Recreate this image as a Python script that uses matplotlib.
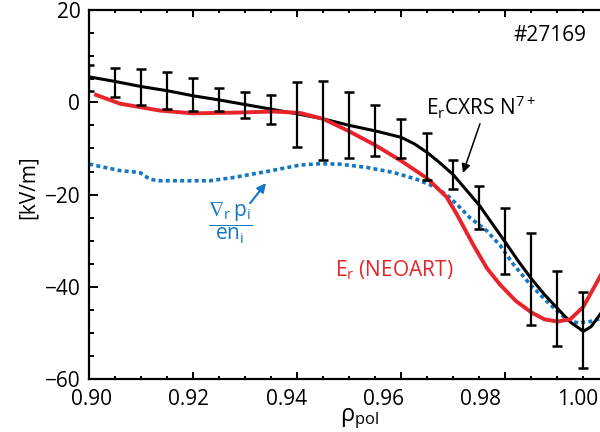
import numpy as np
import matplotlib
matplotlib.use('Agg')
import matplotlib.pyplot as plt
from matplotlib.ticker import MultipleLocator

plt.rcParams['font.family'] = ['Open Sans', 'DejaVu Sans']
plt.rcParams['mathtext.fontset'] = 'custom'
plt.rcParams['mathtext.rm'] = 'Open Sans'
plt.rcParams['mathtext.it'] = 'Open Sans:italic'
plt.rcParams['mathtext.sf'] = 'Open Sans'
plt.rcParams['mathtext.fallback'] = 'stixsans'

RED = '#E8232A'
BLUE = '#1577C2'

# CXRS N7+ Er, error bars at the measurement channels
rho_bar = [0.900, 0.905, 0.910, 0.915, 0.920, 0.925, 0.930, 0.935, 0.940, 0.945,
           0.950, 0.955, 0.960, 0.965, 0.970, 0.975, 0.980, 0.985, 0.990, 0.995]
er_bar = [5.3, 4.3, 3.3, 2.5, 1.7, 0.7, -0.5, -1.6, -2.7, -3.9,
          -4.9, -6.1, -7.8, -11.8, -15.6, -22.8, -30.1, -38.3, -44.6, -49.4]
err_bar = [2.8, 3.2, 3.8, 4.0, 3.5, 2.5, 2.8, 3.1, 7.0, 8.6,
           7.1, 5.6, 4.2, 5.1, 3.2, 4.7, 7.2, 10.0, 8.1, 8.2]

# CXRS profile (solid black)
rho_cx = [0.900, 0.905, 0.910, 0.915, 0.920, 0.925, 0.930, 0.935, 0.940, 0.945,
          0.950, 0.955, 0.960, 0.9625, 0.965, 0.9675, 0.970, 0.9725, 0.975, 0.9775,
          0.980, 0.9825, 0.985, 0.9875, 0.990, 0.9925, 0.995, 0.9965, 0.998, 1.000]
er_cx = [5.5, 4.5, 3.4, 2.5, 1.4, 0.5, -0.5, -1.5, -2.5, -3.6,
         -5.0, -6.2, -7.6, -9.0, -10.9, -13.2, -15.7, -19.0, -22.3, -26.3,
         -30.3, -34.4, -38.2, -41.6, -44.6, -47.6, -49.6, -48.6, -46.3, -43.0]

# NEOART prediction (red)
rho_neo = [0.9013, 0.9059, 0.9136, 0.920, 0.9296, 0.9354, 0.9405, 0.945, 0.950, 0.955,
           0.960, 0.965, 0.9687, 0.9707, 0.9738, 0.9765, 0.979, 0.982, 0.985, 0.9875,
           0.990, 0.9925, 0.995, 0.9979, 1.000]
er_neo = [1.6, -0.3, -1.8, -2.4, -2.2, -2.0, -2.3, -3.6, -6.3, -9.3,
          -12.7, -16.5, -20.5, -24.3, -30.8, -36.0, -39.5, -43.0, -45.5, -47.0,
          -47.5, -47.0, -44.3, -38.4, -34.0]

# diamagnetic term grad(p_i)/(e n_i) (blue dotted)
rho_dp = [0.900, 0.9059, 0.9097, 0.9117, 0.9136, 0.9232, 0.9277, 0.9341, 0.9405, 0.9444,
          0.9482, 0.9533, 0.9585, 0.963, 0.9668, 0.9694, 0.9713, 0.9732, 0.9764, 0.979,
          0.9815, 0.9848, 0.9886, 0.9918, 0.994, 0.9963, 0.9982, 1.000]
er_dp = [-13.4, -14.8, -15.2, -16.7, -17.0, -17.0, -16.3, -15.0, -13.6, -13.3,
         -13.4, -14.1, -15.2, -16.7, -18.5, -20.7, -22.8, -25.0, -27.8, -31.0,
         -35.0, -39.5, -43.8, -47.0, -47.8, -47.5, -46.9, -46.5]

xticks = [0.90, 0.92, 0.94, 0.96, 0.98, 1.00]

fig = plt.figure(figsize=(6, 4.32), dpi=100)
ax = fig.add_axes([0.1488, 0.122, 0.8667, 0.855])

ax.plot(rho_dp, er_dp, color=BLUE, lw=2.6, ls=(0, (1.1, 0.9)), dash_capstyle='butt', zorder=1)
ax.plot(rho_cx, er_cx, color='k', lw=2.2, zorder=2)
ax.plot(rho_neo, er_neo, color=RED, lw=2.8, zorder=3)
ax.errorbar(rho_bar, er_bar, yerr=err_bar, fmt='none', ecolor='k',
            elinewidth=1.6, capsize=3.5, capthick=1.8, zorder=4)

ax.set_xlim(0.90, 1.00)
ax.set_ylim(-60, 20)
ax.xaxis.set_major_locator(MultipleLocator(0.02))
ax.xaxis.set_minor_locator(MultipleLocator(0.005))
ax.yaxis.set_major_locator(MultipleLocator(20))
ax.yaxis.set_minor_locator(MultipleLocator(5))
ax.tick_params(which='both', direction='in', top=True, right=True, width=1.4, labelsize=15)
ax.tick_params(axis='x', which='major', length=5)
ax.tick_params(axis='x', which='minor', length=2.5)
ax.tick_params(axis='y', which='major', length=6.5, pad=6.5)
ax.tick_params(axis='y', which='minor', length=3.5)
ax.tick_params(axis='x', labelbottom=False)
for s in ax.spines.values():
    s.set_linewidth(1.6)

# tick labels sit on their own (slightly compressed) scale
def to_lab(x):
    return 0.90 + ((np.asarray(x) - 0.90) * 5200 - 2.4) / 4860

def from_lab(u):
    return 0.90 + ((np.asarray(u) - 0.90) * 4860 + 2.4) / 5200

sec = ax.secondary_xaxis('bottom', functions=(to_lab, from_lab))
sec.set_xticks(xticks)
sec.set_xticklabels(['%.2f' % t for t in xticks])
sec.tick_params(length=0, pad=7, labelsize=15)
sec.spines['bottom'].set_visible(False)

ax.set_ylabel('[kV/m]', fontsize=15)
ax.yaxis.set_label_coords(-0.097, 0.521)
ax.set_xlabel(r'ρ$_{\mathrm{pol}}$', fontsize=17)
ax.xaxis.set_label_coords(0.519, -0.072)

ax.text(0.9886, 14.5, '#27169', fontsize=15, ha='center', va='center')
ax.text(0.9648, -2.9, r'E$_{\mathrm{r}}$CXRS N$^{7+}$', fontsize=15, ha='left', va='baseline')
ax.annotate('', xy=(0.97186, -15.3), xytext=(0.97513, -4.65),
            arrowprops=dict(arrowstyle='-|>', lw=1.1, color='k', mutation_scale=13,
                            shrinkA=0, shrinkB=0))
ax.text(0.92706, -26.3, r'$\dfrac{\nabla_{\mathrm{r}}\,\mathrm{p}_{\mathrm{i}}}{\mathrm{en}_{\mathrm{i}}}$',
        fontsize=15, color=BLUE, ha='center', va='center')
ax.annotate('', xy=(0.93398, -17.5), xytext=(0.93094, -21.85),
            arrowprops=dict(arrowstyle='-|>', lw=1.5, color=BLUE, mutation_scale=13,
                            shrinkA=0, shrinkB=0))
ax.text(0.94725, -37.7, r'E$_{\mathrm{r}}$ (NEOART)', fontsize=15, color=RED,
        ha='left', va='baseline')

plt.savefig('out.png', dpi=100)
